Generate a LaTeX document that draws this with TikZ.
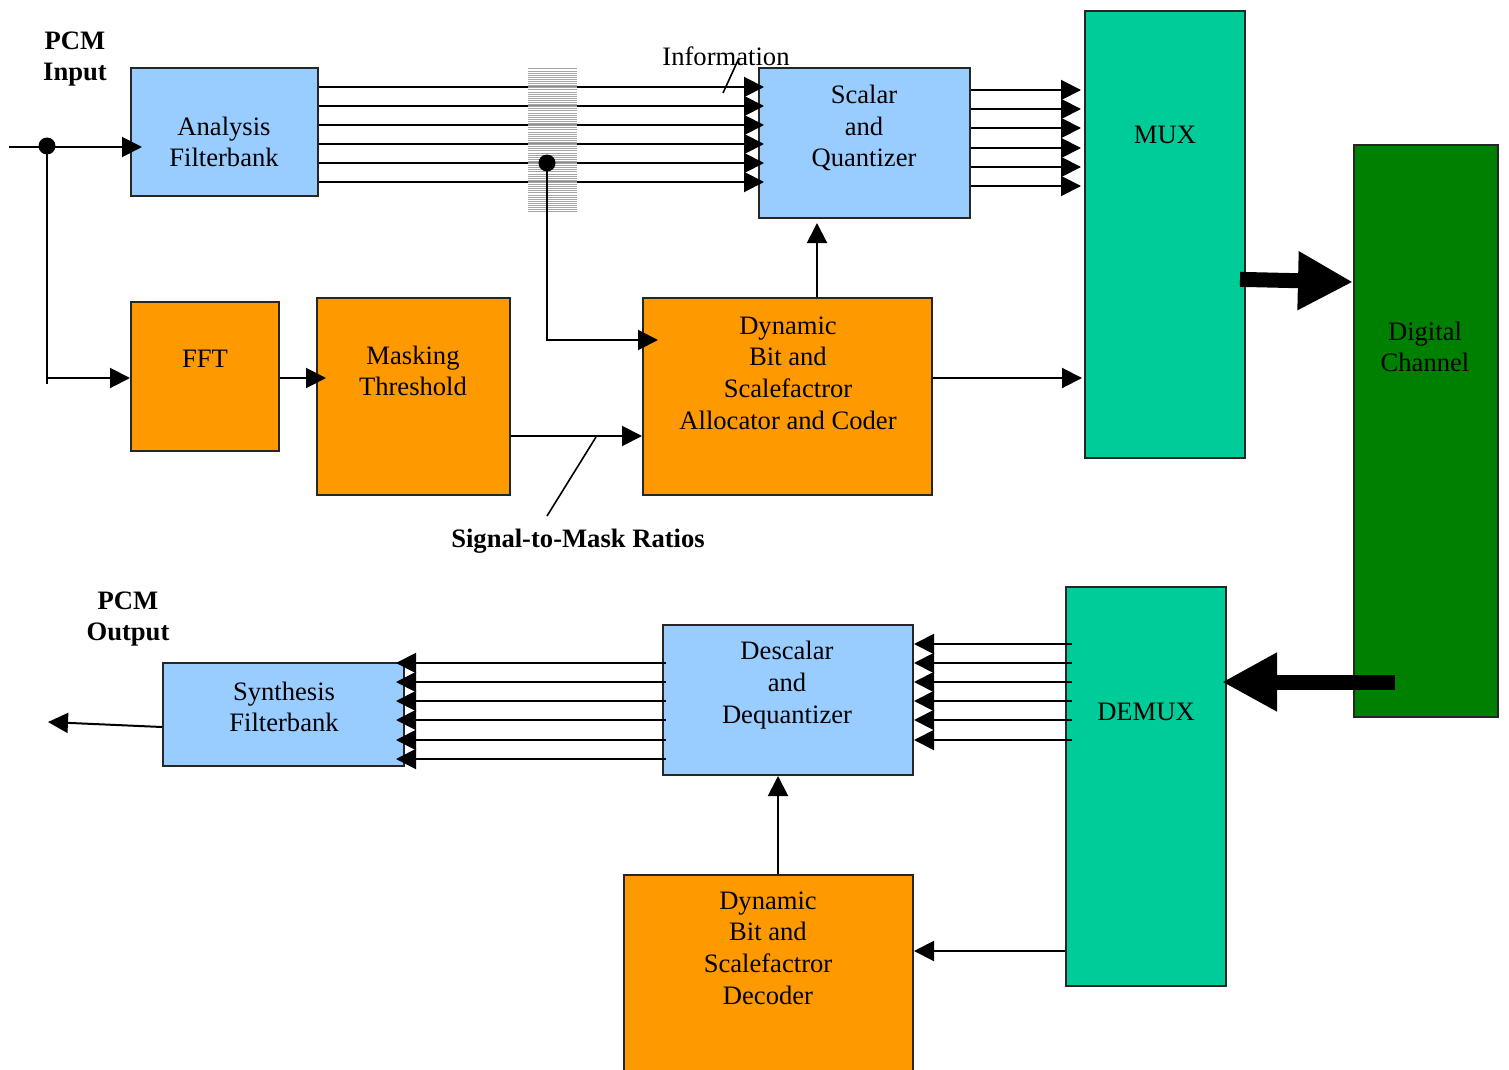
\documentclass[tikz,border=0pt]{standalone}
\usepackage{fontspec}
\setmainfont{Liberation Serif}
\usetikzlibrary{arrows.meta}

\definecolor{lblue}{HTML}{99CCFF}
\definecolor{lorange}{HTML}{FF9900}
\definecolor{lteal}{HTML}{00CC99}
\definecolor{dgreen}{HTML}{008000}

\tikzset{
  blk/.style={draw=black!85, line width=1pt, inner sep=0pt, rectangle},
  bluebox/.style={blk, fill=lblue},
  orangebox/.style={blk, fill=lorange},
  tealbox/.style={blk, fill=lteal},
  greenbox/.style={blk, fill=dgreen},
  txt/.style={align=center, inner sep=0pt, font=\fontsize{13.3pt}{15.8pt}\selectfont},
  btxt/.style={txt, font=\fontsize{13.3pt}{15.8pt}\selectfont\bfseries},
  sig/.style={line width=1pt, -{Triangle[length=10pt,width=10pt]}},
  plain/.style={line width=1pt},
  leader/.style={line width=0.8pt},
  bigarrow/.style={line width=7.5pt, -{Triangle[length=27.5pt,width=27.5pt]}},
  junction/.style={circle, fill=black, inner sep=0pt, minimum size=8.5pt},
}

\begin{document}
\begin{tikzpicture}[x=0.5pt,y=-0.5pt]
\useasboundingbox (0,0) rectangle (1509,1070);

% ---------- encoder blocks ----------
\node[bluebox, minimum width=187*0.5pt, minimum height=128*0.5pt] (af) at (224.5,132) {};
\node[bluebox, minimum width=211*0.5pt, minimum height=150*0.5pt] (sq) at (864.5,143) {};
\node[tealbox, minimum width=160*0.5pt, minimum height=447*0.5pt] (mux) at (1165,234.5) {};
\node[greenbox, minimum width=144*0.5pt, minimum height=572*0.5pt] (dc) at (1426,431) {};
\node[orangebox, minimum width=148*0.5pt, minimum height=149*0.5pt] (fft) at (205,376.5) {};
\node[orangebox, minimum width=193*0.5pt, minimum height=197*0.5pt] (mask) at (413.5,396.5) {};
\node[orangebox, minimum width=289*0.5pt, minimum height=197*0.5pt] (dyn) at (787.5,396.5) {};

% ---------- decoder blocks ----------
\node[bluebox, minimum width=241*0.5pt, minimum height=103*0.5pt] (syn) at (283.5,714.5) {};
\node[bluebox, minimum width=250*0.5pt, minimum height=150*0.5pt] (dsq) at (788,700) {};
\node[tealbox, minimum width=160*0.5pt, minimum height=399*0.5pt] (demux) at (1146,786.5) {};
\node[orangebox, minimum width=289*0.5pt, minimum height=197*0.5pt] (dec) at (768.5,973.5) {};

% ---------- block texts ----------
\node[btxt] (pcmin) at (75,59) {PCM\\Input};
\node[txt] (aft) at (224,142) {Analysis\\Filterbank};
\node[txt] (sqt) at (864,128) {Scalar\\and\\Quantizer};
\node[txt] (muxt) at (1165,135) {MUX};
\node[txt] (dct) at (1425,347) {Digital\\Channel};
\node[txt] (fftt) at (205,359) {FFT};
\node[txt] (maskt) at (413,371) {Masking\\Threshold};
\node[txt] (dynt) at (788,373) {Dynamic\\Bit and\\Scalefactror\\Allocator and Coder};
\node[btxt] (smr) at (578,541) {Signal-to-Mask Ratios};
\node[txt] (info) at (726,56) {Information};
\node[btxt] (pcmout) at (128,619) {PCM\\Output};
\node[txt] (synt) at (284,707) {Synthesis\\Filterbank};
\node[txt] (dsqt) at (787,685) {Descalar\\and\\Dequantizer};
\node[txt] (demuxt) at (1146,712) {DEMUX};
\node[txt] (dect) at (768,948) {Dynamic\\Bit and\\Scalefactror\\Decoder};

% ---------- input and FFT branch ----------
\coordinate (in) at (9,147);
\node[junction] (j1) at (47,146) {};
\draw[sig, shorten >=-6pt] (in) -- (af.west |- in);
\draw[plain] (j1.center) -- (47,384);
\coordinate (j2) at (47,378);
\draw[sig] (j2) -- (fft.west |- j2);
\draw[sig, shorten >=-5pt] (fft.east |- 0,378) -- (mask.west |- 0,378);
\draw[sig] (mask.east |- 0,436) -- (dyn.west |- 0,436);

% subband lines: filterbank to quantizer
\foreach \y in {87,106,125,144,163,182}
  \draw[sig, shorten >=-3pt] (af.east |- 0,\y) -- (sq.west |- 0,\y);

% hatched band across the subband lines
\fill[white, fill opacity=0.55] (528,69) rectangle (577,214);
\foreach \i in {0,...,68}
  \draw[gray!70, line width=0.5pt] (528,69+2.1*\i) -- (577,69+2.1*\i);

% tap from the subbands to the allocator
\node[junction] (j3) at (547,163) {};
\draw[sig, shorten >=-8pt] (j3.center) |- (dyn.west |- 0,340);

% quantizer outputs to multiplexer
\foreach \y in {90,109,128,148,167,186}
  \draw[sig, shorten >=1.5pt] (sq.east |- 0,\y) -- (mux.west |- 0,\y);

\draw[sig, shorten >=2pt] (dyn.north -| 817,0) -- (sq.south -| 817,0);
\draw[sig, shorten >=1pt] (dyn.east |- 0,378) -- (mux.west |- 0,378);

% label leaders
\coordinate (infopt) at (723,93);
\draw[leader] (739,58) -- (infopt);
\coordinate (smrpt) at (596,437);
\draw[leader] (smrpt) -- (547,516);

% ---------- channel ----------
\draw[bigarrow, shorten <=-3pt] (mux.east |- 0,279.5) -- (dc.west |- 0,282);
\coordinate (dcout) at (1395,682);
\draw[bigarrow, shorten >=-2.5pt] (dcout) -- (demux.east |- dcout);

% ---------- decoder connections ----------
\foreach \y in {644,663,682,701,720,740}
  \draw[sig, shorten <=-3.5pt] (demux.west |- 0,\y) -- (dsq.east |- 0,\y);
\foreach \y in {663,682,701,720,740,759}
  \draw[sig, shorten <=-2pt, shorten >=-4.5pt] (dsq.west |- 0,\y) -- (syn.east |- 0,\y);
\draw[sig] (dec.north -| 778,0) -- (dsq.south -| 778,0);
\draw[sig] (demux.west |- 0,951) -- (dec.east |- 0,951);
\coordinate (out) at (48,722);
\draw[sig] (syn.west |- 0,727) -- (out);

\end{tikzpicture}
\end{document}
